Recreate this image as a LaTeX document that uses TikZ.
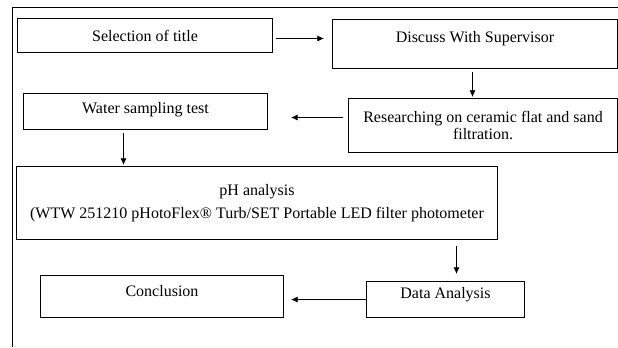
\documentclass[tikz,border=0pt]{standalone}
\usepackage{fontspec}
\setmainfont{Liberation Serif}
\usepackage{tikz}
\usetikzlibrary{arrows.meta,calc}

% text sits a little high in some boxes
\newcommand{\lift}[2]{\raisebox{#1}[\height][\depth]{#2}}

\begin{document}
\begin{tikzpicture}[x=0.75pt, y=-0.75pt,
  box/.style={draw, line width=0.75pt, inner sep=0pt, align=center,
    anchor=north west, font=\fontsize{12}{13.1}\selectfont},
  size/.style 2 args={minimum width=#1*0.75pt, minimum height=#2*0.75pt},
  arr/.style={-{Latex[length=5pt,width=4.5pt]}, line width=0.6pt}]
  \useasboundingbox (0,0) rectangle (618,347);

  % page frame (top and left only)
  \draw[line width=0.75pt] (618,7) -- (12,7) -- (12,347);

  % Boxes (placed by top left corner)
  \node[box, size={255}{34}] (sel) at (17,18) {Selection of title};
  \node[box, size={285}{49}] (disc) at (332,19) {\lift{4pt}{Discuss With Supervisor}};
  \node[box, size={269}{54}] (res) at (348,98)
    {Researching on ceramic flat and sand\\ filtration.};
  \node[box, size={244}{36}] (water) at (23,93) {\lift{1pt}{Water sampling test}};
  \node[box, size={481}{73}] (ph) at (16,166)
    {pH analysis\\[4pt] (WTW 251210 pHotoFlex® Turb/SET Portable LED filter photometer};
  \node[box, size={158}{36}] (data) at (366,281) {\lift{3.4pt}{Data Analysis}};
  \node[box, size={243}{42}] (concl) at (40,275) {\lift{4pt}{Conclusion}};

  % Arrows
  \draw[arr] ($(sel.east)+(3,3)$) -- ($(disc.west)+(-8,-5.5)$);
  \draw[arr] ($(disc.south)+(-2.5,3)$) -- ($(disc.south |- res.north)+(-2.5,-1)$);
  \draw[arr] ($(res.west)+(-5,-8)$) -- ($(water.east)+(23,6)$);
  \draw[arr] ($(water.south)+(-22,3)$) -- ($(water.south |- ph.north)+(-22,-1)$);
  \draw[arr] ($(data.north |- ph.south)+(11,6)$) -- ($(data.north)+(11,-7)$);
  \draw[arr] (data.west) -- ($(concl.east)+(7,3)$);
\end{tikzpicture}
\end{document}
